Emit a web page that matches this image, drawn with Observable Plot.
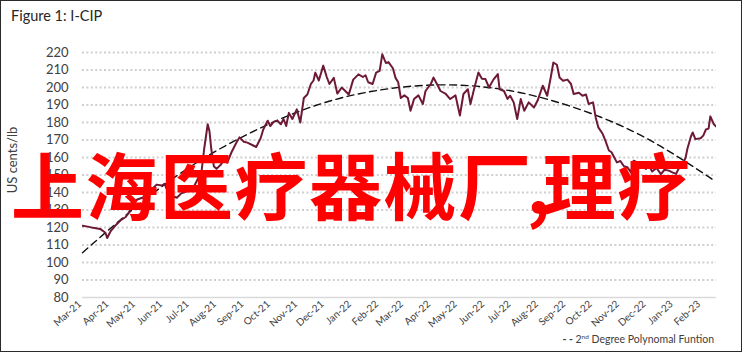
<!DOCTYPE html>
<html><head><meta charset="utf-8">
<script src="https://cdn.jsdelivr.net/npm/d3@7"></script>
<script src="https://cdn.jsdelivr.net/npm/@observablehq/plot@0.6"></script>
<style>
html,body{margin:0;padding:0;background:#fff;}
#wrap{position:relative;width:747px;height:354px;overflow:hidden;font-family:Lato,"Open Sans",sans-serif;}
#frame{position:absolute;left:0;top:0;width:742px;height:352px;border:1px solid #2b2b2b;box-sizing:border-box;pointer-events:none;}
#title{position:absolute;left:11px;top:7px;font-size:14.5px;color:#262626;white-space:nowrap;}
#legend{position:absolute;right:33px;top:333px;font-size:10.5px;color:#404040;white-space:nowrap;}
#legend sup{font-size:6.5px;vertical-align:4px;}
#chart{position:absolute;left:0;top:0;}
</style></head>
<body>
<div id="wrap">
  <div id="chart"></div>
  <div id="title"></div>
  <div id="legend"></div>
  <div id="frame"></div>
</div>
<script>
const titleText = "Figure 1: I-CIP";
const yAxisLabel = "US cents/lb";
const legendLabel = ["2", "nd", " Degree Polynomal Funtion"];
const overlayParts = ["上海医疗器械厂", ",", "理疗"];

const yTicks = [80, 90, 100, 110, 120, 130, 140, 150, 160, 170, 180, 190, 200, 210, 220];
const monthTicks = ["2021-03-01","2021-04-01","2021-05-01","2021-06-01","2021-07-01","2021-08-01","2021-09-01","2021-10-01","2021-11-01","2021-12-01","2022-01-01","2022-02-01","2022-03-01","2022-04-01","2022-05-01","2022-06-01","2022-07-01","2022-08-01","2022-09-01","2022-10-01","2022-11-01","2022-12-01","2023-01-01","2023-02-01"];

const cipDates = [
"2021-03-04","2021-03-10","2021-03-16","2021-03-24","2021-03-30","2021-04-01","2021-04-05","2021-04-10","2021-04-16","2021-04-22","2021-04-25","2021-04-30",
"2021-05-05","2021-05-11","2021-05-17","2021-05-22","2021-05-27",
"2021-06-02","2021-06-05","2021-06-09","2021-06-14","2021-06-19","2021-06-24",
"2021-07-02","2021-07-08","2021-07-12","2021-07-17","2021-07-20","2021-07-24","2021-07-26","2021-07-28","2021-07-31",
"2021-08-03","2021-08-08","2021-08-12","2021-08-15","2021-08-20","2021-08-25","2021-08-29",
"2021-09-03","2021-09-07","2021-09-13","2021-09-17","2021-09-22","2021-09-25","2021-09-30",
"2021-10-03","2021-10-07","2021-10-11","2021-10-15","2021-10-18","2021-10-21","2021-10-24","2021-10-28",
"2021-11-02","2021-11-06","2021-11-10","2021-11-14","2021-11-18","2021-11-21","2021-11-23","2021-11-27","2021-11-30",
"2021-12-02","2021-12-06","2021-12-09","2021-12-14","2021-12-18","2021-12-23","2021-12-27","2021-12-31",
"2022-01-05","2022-01-11","2022-01-16","2022-01-19","2022-01-22","2022-01-27","2022-01-31",
"2022-02-04","2022-02-07","2022-02-11","2022-02-14","2022-02-19","2022-02-22","2022-02-25","2022-02-28",
"2022-03-04","2022-03-08","2022-03-11","2022-03-15","2022-03-20","2022-03-25","2022-03-28",
"2022-04-03","2022-04-06","2022-04-11","2022-04-14","2022-04-20","2022-04-25",
"2022-05-01","2022-05-06","2022-05-10","2022-05-15","2022-05-18","2022-05-22","2022-05-27","2022-05-31",
"2022-06-04","2022-06-08","2022-06-13","2022-06-18","2022-06-20","2022-06-25","2022-06-29",
"2022-07-02","2022-07-06","2022-07-10","2022-07-14","2022-07-18","2022-07-23","2022-07-29",
"2022-08-02","2022-08-08","2022-08-13","2022-08-17","2022-08-20","2022-08-24","2022-08-27","2022-08-31",
"2022-09-05","2022-09-09","2022-09-12","2022-09-18","2022-09-22","2022-09-26","2022-09-29",
"2022-10-04","2022-10-07","2022-10-10","2022-10-15","2022-10-18","2022-10-22","2022-10-25","2022-10-27","2022-10-31",
"2022-11-04","2022-11-08","2022-11-12","2022-11-16","2022-11-19","2022-11-24","2022-11-28",
"2022-12-03","2022-12-06","2022-12-10","2022-12-15","2022-12-20","2022-12-24","2022-12-29",
"2023-01-02","2023-01-06","2023-01-09","2023-01-14","2023-01-17","2023-01-19","2023-01-23","2023-01-25","2023-01-28",
"2023-02-03","2023-02-06","2023-02-09","2023-02-12","2023-02-14","2023-02-18","2023-02-21"
];
const cipValues = [
121,120.5,119.8,119.2,117,114,118,121,124,126,128,133,
136,137,138,142,144.5,
144,145,140,138,137,139.5,
141,143,147,152,165,179,175,165,155,
153.5,156,159,157,163,168,171.5,
169,168.5,167,166,171,176,181,
178,180.5,181,179,182,178,185.5,182,
187.5,180,194,196,202,204,208.5,204,209,
212.5,206,202,205.5,196.5,200,198,196,
204.5,207.5,206,207,203,202,208.5,
209.5,219,214,214.5,211,205.5,203,194,
195.5,194,186.7,193.4,195.5,190.6,198,
202,205.7,201,198,196.3,193.4,
195.5,184,196.3,199,190.6,199,208.6,205,
204.8,200,204.5,207.7,199,198,193.5,
195.3,191.5,182,193.4,186.7,191.5,188.6,
192.4,201,195.3,205.7,214.3,213,205.7,203.9,
204.5,202,196.3,197,195.3,196,190.6,
191.5,182.9,177.2,173.4,169.6,164,163,161,157.2,
158,155,154.4,151.5,158.2,157,155,
153.5,156,152,154,150.5,153,152.5,
151.5,150.6,153.5,156.3,160,165,172,174.3,170.5,
171,172.5,176,176.5,183.5,179,177.5
];

const trendDates = ["2021-03-04","2021-05-20","2021-08-07","2021-11-06","2022-01-25","2022-04-16","2022-07-14","2022-10-13","2022-12-20","2023-02-20"];
const trendValues = [105.6,138.4,165,186.6,197.7,201.5,197,183,166.3,146.3];

const parse = d3.utcParse("%Y-%m-%d");
const n = Math.min(cipDates.length, cipValues.length);
const cip = d3.range(n).map(i => ({date: parse(cipDates[i]), value: cipValues[i]}));
const trend = trendDates.map((d, i) => ({date: parse(d), value: trendValues[i]}));
const ticks = monthTicks.map(parse);
const fmt = d3.utcFormat("%b-%y");

const plot = Plot.plot({
  width: 747,
  height: 354,
  marginLeft: 82,
  marginRight: 31,
  marginTop: 52,
  marginBottom: 57,
  style: {fontFamily: "Lato, 'Open Sans', sans-serif", background: "transparent", overflow: "visible"},
  x: {type: "utc", domain: [parse("2021-03-04"), parse("2023-02-21")]},
  y: {domain: [80, 220]},
  marks: [
    Plot.ruleY(yTicks.filter(d => d > 80), {stroke: "#cfcfcf", strokeWidth: 1.8, strokeDasharray: "2,2.4"}),
    Plot.ruleY([80], {stroke: "#d9d9d9", strokeWidth: 1.5}),
    Plot.axisY(yTicks, {tickSize: 0, tickPadding: 14, fontSize: 13, fill: "#404040", label: null}),
    Plot.axisX(ticks, {tickSize: 0, tickPadding: 5, tickRotate: -42, fontSize: 10, fill: "#404040", tickFormat: fmt, label: null}),
    Plot.line(trend, {x: "date", y: "value", stroke: "#111", strokeWidth: 1.4, strokeDasharray: "7,4.5", curve: "natural"}),
    Plot.line(cip, {x: "date", y: "value", stroke: "#6e1a37", strokeWidth: 2, clip: true})
  ]
});
document.getElementById("chart").appendChild(plot);

const svg = d3.select(plot);
svg.append("text")
  .attr("transform", "translate(17,160) rotate(-90)")
  .attr("text-anchor", "middle")
  .attr("font-size", 13)
  .attr("fill", "#404040")
  .attr("font-family", "Lato, 'Open Sans', sans-serif")
  .text(yAxisLabel);
const big = svg.append("text")
  .attr("x", 11).attr("y", 214)
  .attr("text-anchor", "start")
  .attr("font-family", "'Noto Sans CJK SC', sans-serif")
  .attr("font-weight", 700)
  .attr("font-size", 73)
  .attr("letter-spacing", 1.5)
  .attr("fill", "#ff0000");
big.append("tspan").text(overlayParts[0]);
big.append("tspan").attr("dx", -6).text(overlayParts[1]);
big.append("tspan").attr("dx", -9).text(overlayParts[2]);

document.getElementById("title").textContent = titleText;
const lg = document.getElementById("legend");
lg.innerHTML = "";
const dash = document.createElement("span");
dash.textContent = "- - ";
dash.style.fontWeight = "700";
lg.appendChild(dash);
lg.appendChild(document.createTextNode(legendLabel[0]));
const sup = document.createElement("sup");
sup.textContent = legendLabel[1];
lg.appendChild(sup);
lg.appendChild(document.createTextNode(legendLabel[2]));
</script>
</body></html>
